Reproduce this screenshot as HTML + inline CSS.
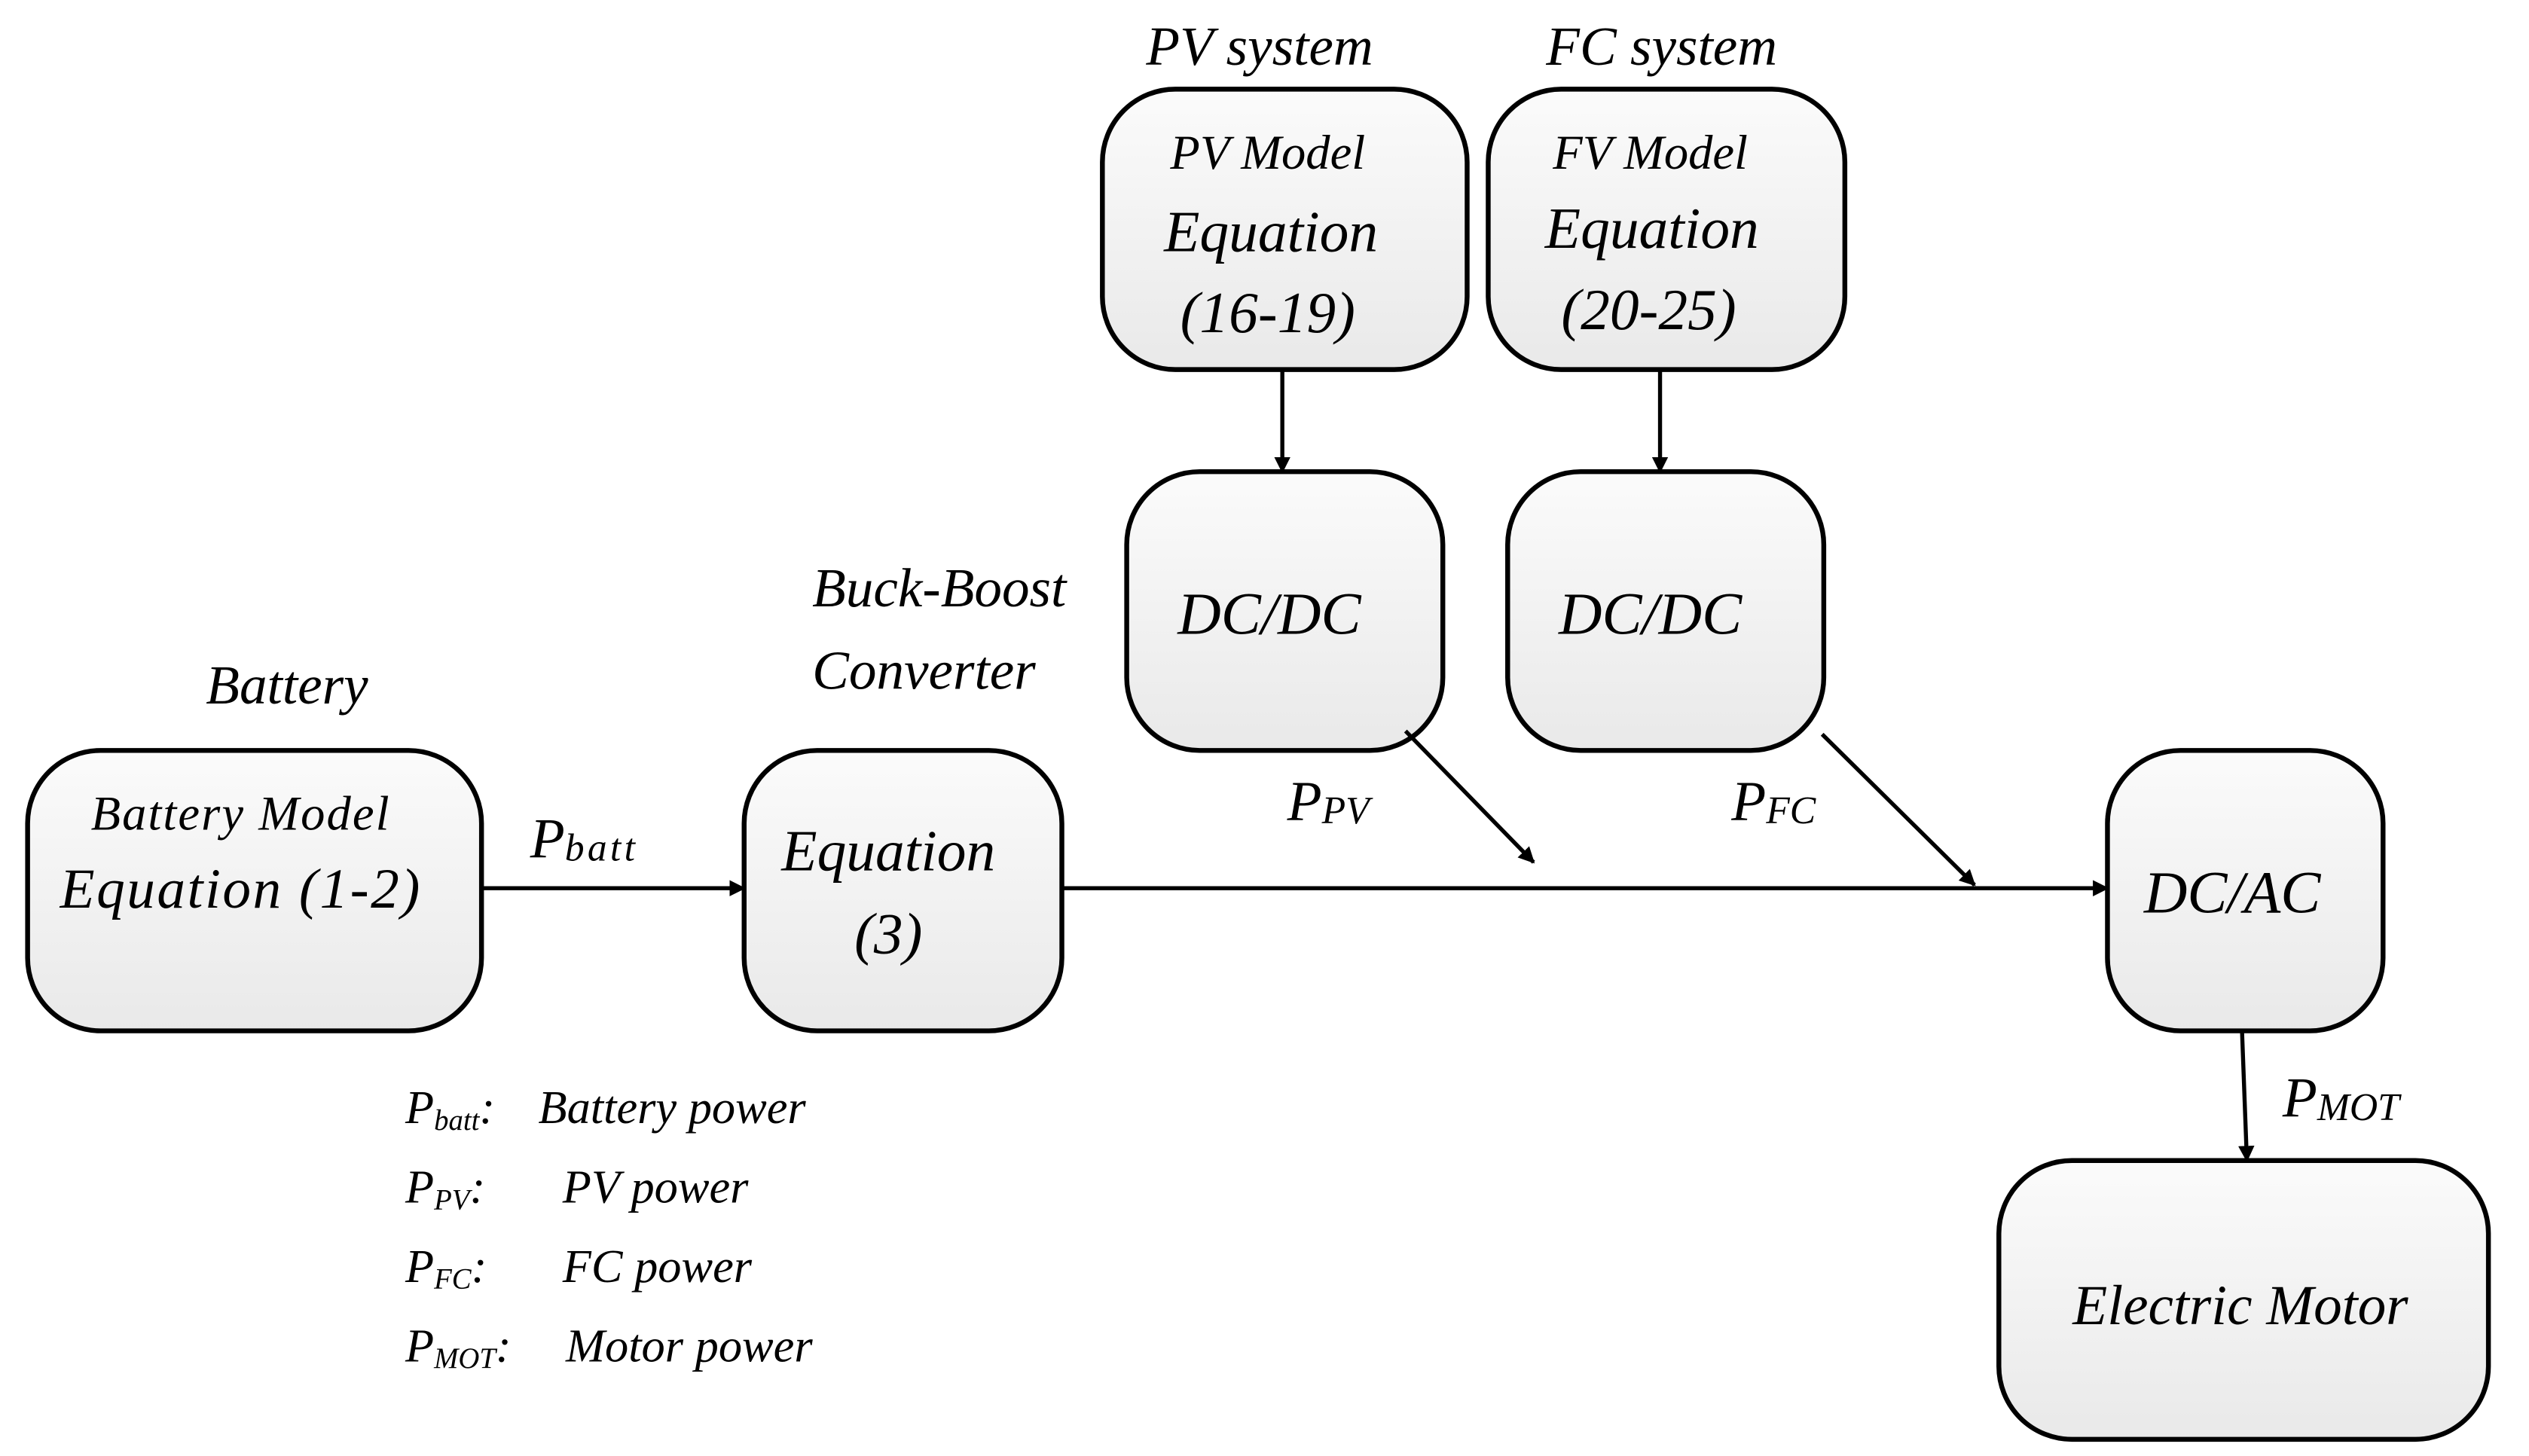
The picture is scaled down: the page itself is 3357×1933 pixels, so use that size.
<!DOCTYPE html>
<html><head><meta charset="utf-8"><style>
html,body{margin:0;padding:0;background:#fff;}
svg{display:block}
text{font-family:"Liberation Serif",serif;font-style:italic;fill:#000}
</style></head><body>
<svg width="3357" height="1933" viewBox="0 0 1560 898.3" xmlns="http://www.w3.org/2000/svg">
<defs>
<linearGradient id="g" x1="0" y1="0" x2="0" y2="1"><stop offset="0" stop-color="#fbfbfb"/><stop offset="1" stop-color="#e9e9e9"/></linearGradient>
<marker id="a" markerWidth="10" markerHeight="10" refX="9" refY="5" orient="auto" markerUnits="userSpaceOnUse"><path d="M0,0 L10,5 L0,10 z" fill="#000"/></marker>
</defs>
<g stroke="#000" stroke-width="3" fill="url(#g)">
<rect x="17" y="463" width="280" height="173" rx="45"/>
<rect x="459" y="463" width="196" height="173" rx="45"/>
<rect x="680" y="55" width="225" height="173" rx="45"/>
<rect x="918" y="55" width="220" height="173" rx="45"/>
<rect x="695" y="291" width="195" height="172" rx="45"/>
<rect x="930" y="291" width="195" height="172" rx="45"/>
<rect x="1300" y="463" width="170" height="173" rx="45"/>
<rect x="1233" y="716" width="302" height="172" rx="45"/>
</g>
<g stroke="#000" stroke-width="2.5" fill="none" marker-end="url(#a)">
<line x1="297" y1="548" x2="459" y2="548"/>
<line x1="655" y1="548" x2="1300" y2="548"/>
<line x1="791" y1="228" x2="791" y2="291"/>
<line x1="1024" y1="228" x2="1024" y2="291"/>
<line x1="867" y1="451" x2="946" y2="532"/>
<line x1="1124" y1="453" x2="1218" y2="546"/>
<line x1="1383" y1="636" x2="1386" y2="716"/>
</g>
<g font-size="34" text-anchor="middle">
<text x="777" y="40">PV system</text>
<text x="1025" y="40">FC system</text>
<text x="177" y="434">Battery</text>
</g>
<text x="501" y="374" font-size="34">Buck-Boost</text>
<text x="501" y="425" font-size="34">Converter</text>
<g text-anchor="middle">
<text x="148" y="512" font-size="30" textLength="184">Battery Model</text>
<text x="148" y="560" font-size="35" textLength="222">Equation (1-2)</text>
<text x="548" y="537" font-size="36">Equation</text>
<text x="548" y="588" font-size="36">(3)</text>
<text x="782" y="104" font-size="30">PV Model</text>
<text x="784" y="155" font-size="36">Equation</text>
<text x="782" y="205" font-size="36">(16-19)</text>
<text x="1018" y="104" font-size="30">FV Model</text>
<text x="1019" y="153" font-size="36">Equation</text>
<text x="1017" y="203" font-size="36">(20-25)</text>
<text x="783" y="391" font-size="37">DC/DC</text>
<text x="1018" y="391" font-size="37">DC/DC</text>
<text x="1377" y="563" font-size="37">DC/AC</text>
<text x="1382" y="817" font-size="35">Electric Motor</text>
</g>
<text x="327" y="529" font-size="35">P<tspan font-size="24" dy="2" letter-spacing="2">batt</tspan></text>
<text x="794" y="506" font-size="35">P<tspan font-size="24" dy="2">PV</tspan></text>
<text x="1068" y="506" font-size="35">P<tspan font-size="24" dy="2">FC</tspan></text>
<text x="1408" y="689" font-size="35">P<tspan font-size="24" dy="2">MOT</tspan></text>
<g font-size="29">
<text x="250" y="693">P<tspan font-size="18" dy="4">batt</tspan><tspan dy="-4">:</tspan></text>
<text x="332" y="693">Battery power</text>
<text x="250" y="742">P<tspan font-size="18" dy="4">PV</tspan><tspan dy="-4">:</tspan></text>
<text x="347" y="742">PV power</text>
<text x="250" y="791">P<tspan font-size="18" dy="4">FC</tspan><tspan dy="-4">:</tspan></text>
<text x="347" y="791">FC power</text>
<text x="250" y="840">P<tspan font-size="18" dy="4">MOT</tspan><tspan dy="-4">:</tspan></text>
<text x="349" y="840">Motor power</text>
</g>
</svg>
</body></html>
